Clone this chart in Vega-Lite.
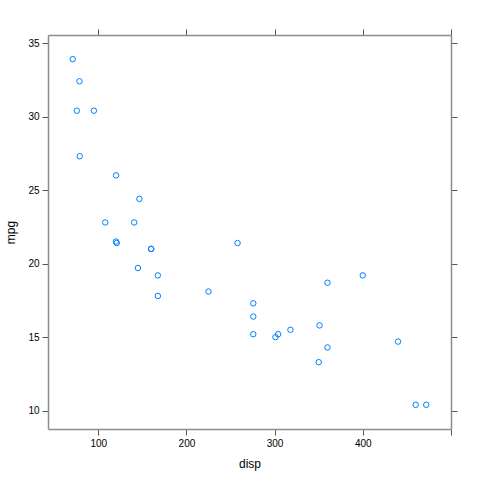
{
  "$schema": "https://vega.github.io/schema/vega-lite/v6.json",
  "autosize": {"type": "none"},
  "width": 403,
  "height": 394,
  "padding": {"left": 48, "top": 35, "right": 29, "bottom": 51},
  "background": "white",
  "config": {
    "view": {"stroke": null},
    "axis": {
      "domainColor": "#8c8c8c",
      "domainWidth": 1.5,
      "tickColor": "#555555",
      "tickSize": 6,
      "tickWidth": 1,
      "grid": false,
      "labelFont": "Liberation Sans",
      "labelFontSize": 10,
      "labelColor": "#000000",
      "titleFont": "Liberation Sans",
      "titleFontSize": 12,
      "titleFontWeight": "normal",
      "titleColor": "#000000"
    }
  },
  "data": {
    "values": [
      {"disp": 160, "mpg": 21.0},
      {"disp": 160, "mpg": 21.0},
      {"disp": 108, "mpg": 22.8},
      {"disp": 258, "mpg": 21.4},
      {"disp": 360, "mpg": 18.7},
      {"disp": 225, "mpg": 18.1},
      {"disp": 360, "mpg": 14.3},
      {"disp": 146.7, "mpg": 24.4},
      {"disp": 140.8, "mpg": 22.8},
      {"disp": 167.6, "mpg": 19.2},
      {"disp": 167.6, "mpg": 17.8},
      {"disp": 275.8, "mpg": 16.4},
      {"disp": 275.8, "mpg": 17.3},
      {"disp": 275.8, "mpg": 15.2},
      {"disp": 472, "mpg": 10.4},
      {"disp": 460, "mpg": 10.4},
      {"disp": 440, "mpg": 14.7},
      {"disp": 78.7, "mpg": 32.4},
      {"disp": 75.7, "mpg": 30.4},
      {"disp": 71.1, "mpg": 33.9},
      {"disp": 120.1, "mpg": 21.5},
      {"disp": 318, "mpg": 15.5},
      {"disp": 304, "mpg": 15.2},
      {"disp": 350, "mpg": 13.3},
      {"disp": 400, "mpg": 19.2},
      {"disp": 79, "mpg": 27.3},
      {"disp": 120.3, "mpg": 26.0},
      {"disp": 95.1, "mpg": 30.4},
      {"disp": 351, "mpg": 15.8},
      {"disp": 145, "mpg": 19.7},
      {"disp": 301, "mpg": 15.0},
      {"disp": 121, "mpg": 21.4}
    ]
  },
  "layer": [
    {
      "mark": {"type": "point", "shape": "circle", "filled": false, "color": "#0080ff", "size": 30, "strokeWidth": 1, "opacity": 1},
      "encoding": {
        "x": {
          "field": "disp", "type": "quantitative",
          "scale": {"domain": [43.04, 500.06], "nice": false, "zero": false},
          "axis": {"orient": "bottom", "values": [100, 200, 300, 400, 500], "labelExpr": "datum.value == 500 ? '' : datum.label", "title": "disp", "titlePadding": 10, "labelPadding": 3}
        },
        "y": {
          "field": "mpg", "type": "quantitative",
          "scale": {"domain": [8.755, 35.545], "nice": false, "zero": false},
          "axis": {"orient": "left", "values": [10, 15, 20, 25, 30, 35], "labelAngle": 0, "title": "mpg", "titlePadding": 10, "labelPadding": 3}
        }
      }
    },
    {
      "mark": {"type": "point", "opacity": 0},
      "encoding": {
        "x": {
          "field": "disp", "type": "quantitative",
          "scale": {"domain": [43.04, 500.06], "nice": false, "zero": false},
          "axis": {"orient": "top", "values": [100, 200, 300, 400, 500], "labels": false, "title": null}
        },
        "y": {
          "field": "mpg", "type": "quantitative",
          "scale": {"domain": [8.755, 35.545], "nice": false, "zero": false},
          "axis": {"orient": "right", "values": [10, 15, 20, 25, 30, 35], "labels": false, "title": null}
        }
      }
    }
  ],
  "resolve": {"axis": {"x": "independent", "y": "independent"}}
}
